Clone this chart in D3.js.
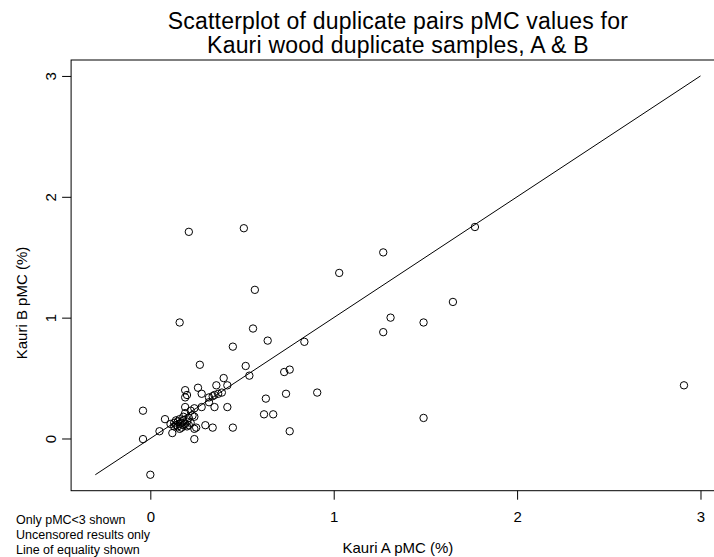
<!DOCTYPE html>
<html>
<head>
<meta charset="utf-8">
<script src="https://cdn.jsdelivr.net/npm/d3@7"></script>
<style>
  html, body { margin: 0; padding: 0; background: #fff; }
  svg { display: block; }
</style>
</head>
<body>
<div id="chart"></div>
<script>
// Kauri wood duplicate pairs, pMC (%) for sample A and sample B
const pmcA = [
  0.21, 0.51, 1.27, 1.77, 1.03, 0.57, 1.65, 1.31, 0.16, 1.49,
  0.56, 1.27, 0.64, 0.84, 0.45, 0.27, 0.52, 0.76, 0.73, 0.54,
  0.40, 2.91, 0.91, 0.74, 0.63, 0.62, 0.67, 1.49, 0.76, 0.45,
  0.36, 0.42, 0.26, 0.28, 0.19, 0.20, 0.19, 0.35, 0.37, 0.39,
  0.34, 0.32, 0.32, 0.35, 0.42, 0.28, 0.24, 0.19, 0.24, 0.22,
  -0.04, 0.08, 0.11, 0.12, 0.05, -0.04, 0.24, 0.00, 0.24, 0.25,
  0.30, 0.34,
  0.13, 0.14, 0.15, 0.15, 0.16, 0.16, 0.17, 0.17, 0.18, 0.18,
  0.18, 0.19, 0.20, 0.20, 0.21, 0.22, 0.23, 0.14, 0.16, 0.19,
  0.21, 0.13
];
const pmcB = [
  1.71, 1.74, 1.54, 1.75, 1.37, 1.23, 1.13, 1.00, 0.96, 0.96,
  0.91, 0.88, 0.81, 0.80, 0.76, 0.61, 0.60, 0.57, 0.55, 0.52,
  0.50, 0.44, 0.38, 0.37, 0.33, 0.20, 0.20, 0.17, 0.06, 0.09,
  0.44, 0.44, 0.42, 0.37, 0.40, 0.36, 0.34, 0.36, 0.37, 0.38,
  0.35, 0.34, 0.30, 0.26, 0.26, 0.26, 0.25, 0.26, 0.18, 0.23,
  0.23, 0.16, 0.12, 0.045, 0.06, -0.005, -0.005, -0.30, 0.08, 0.09,
  0.11, 0.09,
  0.13, 0.11, 0.14, 0.10, 0.12, 0.16, 0.09, 0.13, 0.11, 0.15,
  0.18, 0.12, 0.14, 0.10, 0.17, 0.13, 0.19, 0.15, 0.08, 0.21,
  0.11, 0.10
];
const axisLimits = [-0.3, 3];          // xlim = ylim
const tickValues = [0, 1, 2, 3];
const equalityLine = [-0.3, 3];
const titleLines = [
  'Scatterplot of duplicate pairs pMC values for',
  'Kauri wood duplicate samples, A & B'
];
const notes = ['Only pMC<3 shown', 'Uncensored results only', 'Line of equality shown'];

const width = 714, height = 557;
// plot region runs past the right edge of the picture, as in the original
const plot = { left: 71.1, right: 724.7, top: 60, bottom: 490.7 };
const font = '"Liberation Sans", Arial, Helvetica, sans-serif';

const svg = d3.select('#chart').append('svg')
  .attr('width', width).attr('height', height)
  .attr('viewBox', `0 0 ${width} ${height}`);

svg.append('rect').attr('width', width).attr('height', height).attr('fill', '#fff');

// R-style 4% range extension
const pad = 0.04 * (axisLimits[1] - axisLimits[0]);
const domain = [axisLimits[0] - pad, axisLimits[1] + pad];
const x = d3.scaleLinear().domain(domain).range([plot.left, plot.right]);
const y = d3.scaleLinear().domain(domain).range([plot.bottom, plot.top]);

// Box
svg.append('rect')
  .attr('x', plot.left).attr('y', plot.top)
  .attr('width', plot.right - plot.left).attr('height', plot.bottom - plot.top)
  .attr('fill', 'none').attr('stroke', '#000').attr('stroke-width', 1);

// Axes
const xAxis = svg.append('g')
  .attr('transform', `translate(0,${plot.bottom})`)
  .call(d3.axisBottom(x).tickValues(tickValues).tickSize(9).tickPadding(12).tickFormat(d3.format('d')));
xAxis.select('.domain').remove();
xAxis.selectAll('line').attr('stroke', '#000');
xAxis.selectAll('text')
  .attr('fill', '#000').attr('font-size', '15px').attr('font-family', font);

const yAxis = svg.append('g')
  .attr('transform', `translate(${plot.left},0)`)
  .call(d3.axisLeft(y).tickValues(tickValues).tickSize(9).tickFormat(d3.format('d')));
yAxis.select('.domain').remove();
yAxis.selectAll('line').attr('stroke', '#000');
yAxis.selectAll('text')
  .attr('fill', '#000').attr('font-size', '15px').attr('font-family', font)
  .attr('x', null).attr('dy', null)
  .attr('text-anchor', 'middle')
  .attr('dominant-baseline', 'central')
  .attr('transform', `translate(-21,0) rotate(-90)`);

// Line of equality
svg.append('line')
  .attr('x1', x(equalityLine[0])).attr('y1', y(equalityLine[0]))
  .attr('x2', x(equalityLine[1])).attr('y2', y(equalityLine[1]))
  .attr('stroke', '#000').attr('stroke-width', 1);

// Points (open circles)
svg.append('g').selectAll('circle')
  .data(pmcA.map((a, i) => [a, pmcB[i]]))
  .enter()
  .append('circle')
  .attr('cx', d => x(d[0]))
  .attr('cy', d => y(d[1]))
  .attr('r', 3.7)
  .attr('fill', 'none')
  .attr('stroke', '#000')
  .attr('stroke-width', 1);

// Title
const cx = (plot.left + plot.right) / 2;
svg.selectAll('.title')
  .data(titleLines)
  .enter()
  .append('text')
  .attr('class', 'title')
  .attr('x', cx)
  .attr('y', (d, i) => 29 + i * 24)
  .attr('text-anchor', 'middle')
  .attr('font-size', '23px')
  .attr('letter-spacing', '0.2px')
  .attr('font-family', font)
  .attr('fill', '#000')
  .text(d => d);

// Axis titles
svg.append('text')
  .attr('x', cx).attr('y', 553)
  .attr('text-anchor', 'middle')
  .attr('font-size', '15px').attr('font-family', font)
  .text('Kauri A pMC (%)');

svg.append('text')
  .attr('transform', `translate(21,303) rotate(-90)`)
  .attr('text-anchor', 'middle')
  .attr('dominant-baseline', 'central')
  .attr('font-size', '15px').attr('font-family', font)
  .text('Kauri B pMC (%)');

// Notes, bottom left
svg.selectAll('.note')
  .data(notes)
  .enter()
  .append('text')
  .attr('class', 'note')
  .attr('x', 16)
  .attr('y', (d, i) => 524 + i * 15)
  .attr('font-size', '12.5px')
  .attr('font-family', font)
  .text(d => d);
</script>
</body>
</html>
